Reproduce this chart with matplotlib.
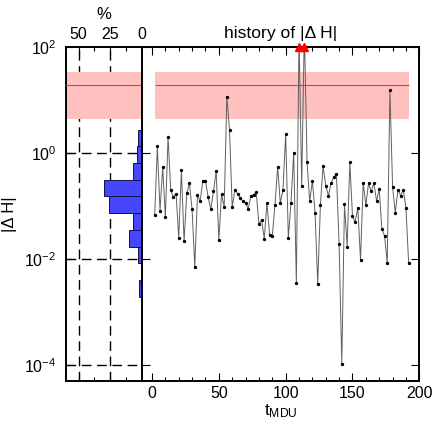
import numpy as np
import matplotlib
matplotlib.use('Agg')
import matplotlib.pyplot as plt
from matplotlib.ticker import (LogFormatterMathtext, MultipleLocator,
                               FixedLocator, NullLocator, NullFormatter)

plt.rcParams['font.family'] = ['Liberation Sans', 'DejaVu Sans']
plt.rcParams['mathtext.fontset'] = 'custom'
plt.rcParams['mathtext.rm'] = 'Liberation Sans'
plt.rcParams['mathtext.it'] = 'Liberation Sans:italic'
plt.rcParams['mathtext.sf'] = 'Liberation Sans'
plt.rcParams['font.size'] = 10.5
plt.rcParams['xtick.labelsize'] = 11.5
plt.rcParams['ytick.labelsize'] = 11.5

# ==== data ====
# time samples (t_MDU), one every 2 units
t = np.arange(2, 194, 2)
# log10 |dH| per sample, the two values above 10^2 are off-scale
log_dh = [
    -1.18, 0.12, -1.09, -0.27, -1.22, 0.30, -0.70, -0.84, -0.77, -1.60,
    -0.33, -1.67, -0.76, -0.58, -1.07, -2.16, -0.79, -0.92, -0.53, -0.53,
    -0.84, -1.06, -0.73, -0.35, -1.65, -0.78, -1.02, 1.06, 0.42, -1.03,
    -0.70, -0.77, -0.85, -0.92, -0.95, -1.06, -0.81, -0.79, -0.75, -1.35,
    -1.27, -1.62, -0.94, -1.56, -1.57, -0.98, -0.27, -0.95, -0.70, 0.36,
    -1.60, -0.94, 0.00, -2.45, 2.20, -0.62, 2.33, -0.18, -0.92, -0.53,
    -1.13, -2.47, -0.98, -0.25, -0.62, -0.81, -0.57, -0.46, -0.41, -1.73,
    -3.98, -0.97, -1.77, -0.18, -1.20, -1.30, -1.04, -2.02, -0.57, -0.99,
    -0.58, -0.73, -0.57, -0.91, -0.69, -1.44, -1.57, -2.08, 1.18, -0.64,
    -1.13, -0.70, -0.81, -0.70, -1.04, -2.08,
]
band_lo, band_hi = 4.4, 34.0   # pink range
level = 19.0                   # red reference line
n_bins = 20

log_dh = np.array(log_dh)
dh = 10**log_dh

# ---- histogram in log bins, in percent ----
edges = np.linspace(log_dh.min(), log_dh.max(), n_bins + 1)
counts, _ = np.histogram(log_dh, bins=edges)
pct = 100.0*counts/len(log_dh)

# ==== figure ====
fig = plt.figure(figsize=(4.33, 4.25), dpi=100)
ax_h = fig.add_axes([0.1524, 0.1042, 0.1755, 0.7859])
ax = fig.add_axes([0.3279, 0.1042, 0.6405, 0.7859])

ymin, ymax = 5e-5, 100.
dash = (0, (7, 4))

# ---- histogram panel ----
ax_h.set_yscale('log')
ax_h.set_ylim(ymin, ymax)
ax_h.set_xlim(60, 0)
for xv in (50, 25):
    ax_h.axvline(xv, color='k', ls=dash, lw=1.0, zorder=1)
for yv in (1, 1e-2, 1e-4):
    ax_h.axhline(yv, color='k', ls=dash, lw=1.0, zorder=1)
ax_h.axhspan(band_lo, band_hi, color='#ffc0c0', lw=0, zorder=2)
ax_h.axhline(level, color='#ff3030', lw=0.8, zorder=3)
lo = 10**edges[:-1]
hi = 10**edges[1:]
ax_h.barh(lo, pct, height=hi - lo, align='edge', color='#4646ff',
          edgecolor='#101040', linewidth=0.7, zorder=4)

ax_h.xaxis.set_major_locator(FixedLocator([50, 25, 0]))
ax_h.xaxis.set_minor_locator(FixedLocator([37.5, 12.5]))
ax_h.xaxis.tick_top()
ax_h.xaxis.set_label_position('top')
ax_h.tick_params(axis='x', which='both', top=True, bottom=True, direction='in',
                 labeltop=True, labelbottom=False)
ax_h.set_xlabel('%', fontsize=12, labelpad=6)
ax_h.set_yticks([1e-4, 1e-2, 1, 1e2])
ax_h.yaxis.set_major_formatter(LogFormatterMathtext())
ax_h.yaxis.set_minor_locator(NullLocator())
ax_h.tick_params(axis='y', which='both', left=True, right=False, direction='in', pad=7)
ax_h.tick_params(which='major', length=6, width=0.8)
ax_h.tick_params(which='minor', length=3, width=0.8)
ax_h.set_ylabel('|Δ H|', fontsize=12, labelpad=5)

# ---- history panel ----
ax.set_yscale('log')
ax.set_ylim(ymin, ymax)
ax.set_xlim(-7.5, 200)
ax.fill_between([t[0], t[-1]], band_lo, band_hi, color='#ffc0c0', lw=0, zorder=1)
ax.hlines(level, t[0], t[-1], color='#ff3030', lw=0.8, zorder=2)
ax.plot(t, dh, color='#606060', lw=0.7, marker='o', ms=1.4,
        mfc='k', mec='k', zorder=3)
over = dh > ymax
ax.plot(t[over], np.full(over.sum(), ymax), ls='none', marker='^', ms=5.5,
        color='#ff0000', clip_on=False, zorder=5)

ax.xaxis.set_major_locator(MultipleLocator(50))
ax.xaxis.set_minor_locator(MultipleLocator(10))
ax.set_yticks([1e-4, 1e-2, 1, 1e2])
ax.yaxis.set_minor_locator(NullLocator())
ax.yaxis.set_major_formatter(NullFormatter())
ax.tick_params(which='both', direction='in', top=True, right=True, left=True)
ax.tick_params(which='major', length=6, width=0.8)
ax.tick_params(which='minor', length=3, width=0.8)
ax.set_xlabel(r'$\mathrm{t_{MDU}}$', fontsize=12.5, labelpad=1)
ax.set_title('history of |Δ H|', fontsize=12.6, pad=6)

for a in (ax, ax_h):
    for s in a.spines.values():
        s.set_linewidth(1.4)

fig.savefig('out.png', dpi=100)
